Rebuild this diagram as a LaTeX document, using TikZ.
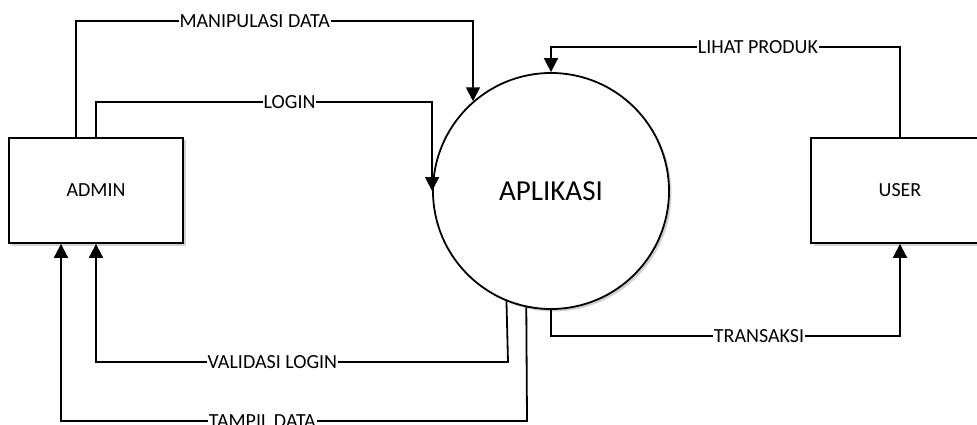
\documentclass[tikz,border=0pt]{standalone}
\usepackage{fontspec}
\setmainfont{Carlito}
\usetikzlibrary{arrows.meta,shadows}
\begin{document}
\begin{tikzpicture}[x=1pt,y=-1pt,
  line width=1.8pt,
  ent/.style={draw, fill=white, rectangle, minimum height=105pt, inner sep=0pt,
    font=\fontsize{20}{22}\selectfont,
    drop shadow={shadow xshift=2.5pt, shadow yshift=-2.5pt, fill=black!18, opacity=1}},
  proc/.style={draw, fill=white, circle, minimum size=236pt, inner sep=0pt,
    font=\fontsize{29}{32}\selectfont,
    drop shadow={shadow xshift=2.5pt, shadow yshift=-2.5pt, fill=black!18, opacity=1}},
  arr/.style={-{Triangle[width=14pt,length=14pt]}, line width=1.8pt},
  lbl/.style={fill=white, inner sep=1pt, font=\fontsize{20}{22}\selectfont}]
\useasboundingbox (0,0) rectangle (977,425);
\fill[white] (0,0) rectangle (977,425);

\node[ent, minimum width=174pt] (admin) at (96,190.5) {ADMIN};
\node[ent, minimum width=178pt] (user) at (900,190.5) {USER};
\node[proc] (app) at (551,191) {APLIKASI};

% MANIPULASI DATA
\draw[arr] ([xshift=-20pt]admin.north) -- (76,21)
  -- node[lbl,pos=0.45]{MANIPULASI DATA} (473,21) -- (app.131.4);
% LOGIN
\draw[arr] (admin.north) -- (96,102)
  -| node[lbl,pos=0.288]{LOGIN} (app.west);
% LIHAT PRODUK
\draw[arr] (user.north) -- (900,47)
  -| node[lbl,pos=0.2035]{LIHAT PRODUK} (app.north);
% TRANSAKSI
\draw[arr] (app.south) -- (551,336)
  -| node[lbl,pos=0.298]{TRANSAKSI} (user.south);
% VALIDASI LOGIN
\draw[arr] (app.248.6) -- (508,362)
  -| node[lbl,pos=0.286]{VALIDASI LOGIN} (admin.south);
% TAMPIL DATA
\draw[arr] (app.258.3) -- (527,421)
  -| node[lbl,pos=0.284]{TAMPIL DATA} ([xshift=-35pt]admin.south);
\end{tikzpicture}
\end{document}
